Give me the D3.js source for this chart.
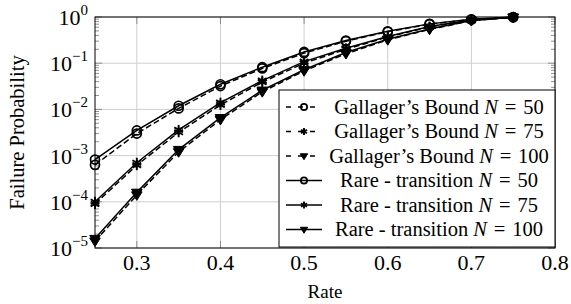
<!DOCTYPE html>
<html>
<head>
<meta charset="utf-8">
<script src="https://cdn.jsdelivr.net/npm/d3@7"></script>
<style>
  body { margin: 0; background: #fff; }
</style>
</head>
<body>
<svg id="chart" width="571" height="304"></svg>
<script>
// data
var rates = [0.25, 0.3, 0.35, 0.4, 0.45, 0.5, 0.55, 0.6, 0.65, 0.7, 0.75];
var gal50 = [6.3e-4, 3.0e-3, 1.05e-2, 3.2e-2, 7.7e-2, 0.165, 0.30, 0.48, 0.70, 0.88, 0.99];
var gal75 = [9.0e-5, 6.2e-4, 3.2e-3, 1.25e-2, 3.9e-2, 0.100, 0.20, 0.37, 0.61, 0.85, 0.99];
var gal100 = [1.4e-5, 1.4e-4, 1.2e-3, 6.0e-3, 2.4e-2, 0.068, 0.16, 0.32, 0.54, 0.83, 0.99];
var rare50 = [8.2e-4, 3.5e-3, 1.2e-2, 3.5e-2, 8.2e-2, 0.175, 0.31, 0.49, 0.71, 0.89, 0.99];
var rare75 = [1.0e-4, 7.0e-4, 3.6e-3, 1.4e-2, 4.2e-2, 0.108, 0.21, 0.38, 0.62, 0.86, 0.99];
var rare100 = [1.6e-5, 1.6e-4, 1.35e-3, 6.6e-3, 2.6e-2, 0.072, 0.17, 0.33, 0.55, 0.84, 0.99];

var xTicks = [0.3, 0.4, 0.5, 0.6, 0.7, 0.8];
var yExps = [0, -1, -2, -3, -4, -5];

var series = [
  { name: "Gallager\u2019s Bound", n: "50", vals: gal50, mark: "circle", dash: true },
  { name: "Gallager\u2019s Bound", n: "75", vals: gal75, mark: "star", dash: true },
  { name: "Gallager\u2019s Bound", n: "100", vals: gal100, mark: "tri", dash: true },
  { name: "Rare - transition", n: "50", vals: rare50, mark: "circle", dash: false },
  { name: "Rare - transition", n: "75", vals: rare75, mark: "star", dash: false },
  { name: "Rare - transition", n: "100", vals: rare100, mark: "tri", dash: false }
];

var FONT = "Liberation Serif";
var L = 95, R = 555, T = 17, B = 248;
var svg = d3.select("#chart");

var x = d3.scaleLinear().domain([0.25, 0.8]).range([L, R]);
var y = d3.scaleLog().domain([1e-5, 1]).range([B, T]);

// grid
var grid = svg.append("g").attr("stroke", "#cfcfcf").attr("stroke-width", 1);
xTicks.forEach(function(t) {
  grid.append("line").attr("x1", x(t)).attr("x2", x(t)).attr("y1", T).attr("y2", B);
});
yExps.forEach(function(e) {
  grid.append("line").attr("x1", L).attr("x2", R).attr("y1", y(Math.pow(10, e))).attr("y2", y(Math.pow(10, e)));
});

// ticks (inside, both sides)
var tk = svg.append("g").attr("stroke", "#777").attr("stroke-width", 0.8);
for (var e = -5; e < 0; e++) {
  for (var m = 2; m <= 9; m++) {
    var yy = y(m * Math.pow(10, e));
    tk.append("line").attr("x1", L).attr("x2", L + 4).attr("y1", yy).attr("y2", yy);
    tk.append("line").attr("x1", R).attr("x2", R - 4).attr("y1", yy).attr("y2", yy);
  }
}
yExps.forEach(function(e) {
  var yy = y(Math.pow(10, e));
  tk.append("line").attr("x1", L).attr("x2", L + 7).attr("y1", yy).attr("y2", yy);
  tk.append("line").attr("x1", R).attr("x2", R - 7).attr("y1", yy).attr("y2", yy);
});
xTicks.forEach(function(t) {
  tk.append("line").attr("x1", x(t)).attr("x2", x(t)).attr("y1", B).attr("y2", B - 7);
  tk.append("line").attr("x1", x(t)).attr("x2", x(t)).attr("y1", T).attr("y2", T + 7);
});

// tick labels
svg.append("g").selectAll("text").data(xTicks).enter().append("text")
  .attr("x", function(d) { return x(d); })
  .attr("y", 270)
  .attr("text-anchor", "middle")
  .style("font-family", FONT).style("font-size", "22px")
  .text(function(d) { return d3.format(".1f")(d); });

var yl = svg.append("g").selectAll("text").data(yExps).enter().append("text")
  .attr("x", 88)
  .attr("y", function(d) { return y(Math.pow(10, d)) + 8; })
  .attr("text-anchor", "end")
  .style("font-family", FONT).style("font-size", "22px");
yl.append("tspan").text("10");
yl.append("tspan").style("font-size", "15px").attr("dy", -10)
  .text(function(d) { return d < 0 ? "\u2212" + (-d) : "" + d; });

// axis labels
svg.append("text").attr("x", (L + R) / 2).attr("y", 298).attr("text-anchor", "middle")
  .style("font-family", FONT).style("font-size", "19px").text("Rate");
svg.append("text").attr("transform", "translate(24," + ((T + B) / 2) + ") rotate(-90)")
  .attr("text-anchor", "middle")
  .style("font-family", FONT).style("font-size", "20.5px").text("Failure Probability");

// markers
function drawMark(g, kind, cx, cy, s) {
  if (kind === "circle") {
    g.append("circle").attr("cx", cx).attr("cy", cy).attr("r", 4.5 * s)
      .attr("fill", "none").attr("stroke", "#000").attr("stroke-width", 1.7);
  } else if (kind === "star") {
    [90, 30, 150].forEach(function(a) {
      var r = 5 * s, rad = a * Math.PI / 180;
      g.append("line")
        .attr("x1", cx - r * Math.cos(rad)).attr("y1", cy - r * Math.sin(rad))
        .attr("x2", cx + r * Math.cos(rad)).attr("y2", cy + r * Math.sin(rad))
        .attr("stroke", "#000").attr("stroke-width", 1.9);
    });
  } else {
    var r = 5.3 * s;
    g.append("path")
      .attr("d", "M" + (cx - r) + "," + (cy - r * 0.6) + "L" + (cx + r) + "," + (cy - r * 0.6) +
        "L" + cx + "," + (cy + r) + "Z")
      .attr("fill", "#000").attr("stroke", "#000").attr("stroke-width", 1);
  }
}

var line = d3.line()
  .x(function(d) { return x(d[0]); })
  .y(function(d) { return y(d[1]); });

var plot = svg.append("g");
series.forEach(function(s) {
  var pts = rates.map(function(r, i) { return [r, s.vals[i]]; });
  plot.append("path").datum(pts).attr("d", line)
    .attr("fill", "none").attr("stroke", "#000").attr("stroke-width", 1.5)
    .attr("stroke-dasharray", s.dash ? "6,3" : null);
  pts.forEach(function(p) { drawMark(plot, s.mark, x(p[0]), y(p[1]), 1); });
});

// frame
svg.append("rect").attr("x", L).attr("y", T).attr("width", R - L).attr("height", B - T)
  .attr("fill", "none").attr("stroke", "#000").attr("stroke-width", 1);

// legend
var lg = svg.append("g");
lg.append("rect").attr("x", 279).attr("y", 90).attr("width", R - 279).attr("height", B - 1 - 90)
  .attr("fill", "#fff").attr("stroke", "#000").attr("stroke-width", 1);
series.forEach(function(s, i) {
  var cy = 107 + i * 24.5;
  if (s.dash) {
    lg.append("line").attr("x1", 286).attr("x2", 321).attr("y1", cy).attr("y2", cy)
      .attr("stroke", "#000").attr("stroke-width", 1.5).attr("stroke-dasharray", "5,7");
  } else {
    lg.append("line").attr("x1", 286).attr("x2", 322).attr("y1", cy).attr("y2", cy)
      .attr("stroke", "#000").attr("stroke-width", 1.5);
  }
  drawMark(lg, s.mark, 304, cy, 0.7);
  var t = lg.append("text").attr("x", 439).attr("y", cy + 6.5).attr("text-anchor", "middle")
    .style("font-family", FONT).style("font-size", "20.5px");
  t.append("tspan").text(s.name + " ");
  t.append("tspan").style("font-style", "italic").text("N");
  t.append("tspan").text("\u2004=\u2004" + s.n);
});
</script>
</body>
</html>
